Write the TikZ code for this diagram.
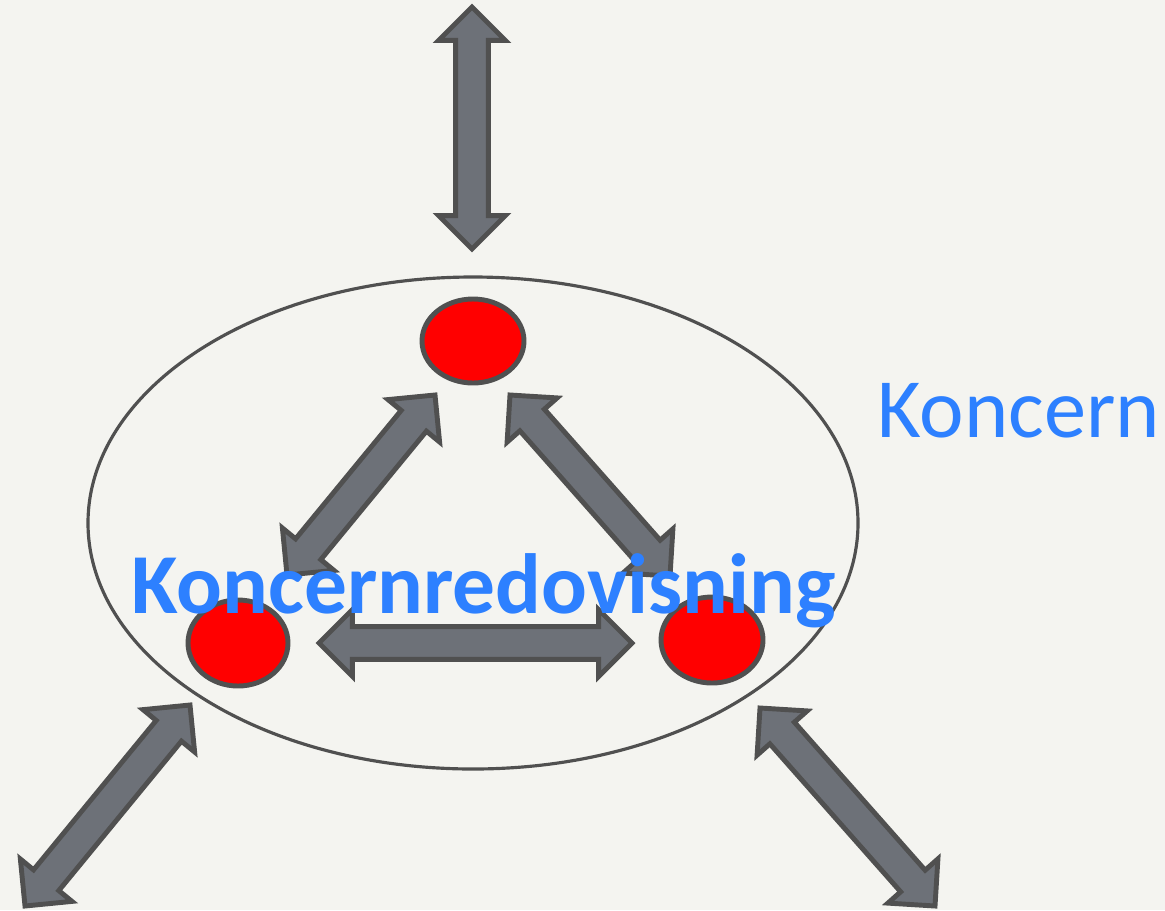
\documentclass[tikz,border=0pt]{standalone}
\usepackage{fontspec}
\setmainfont{Carlito}
\usetikzlibrary{calc}
\definecolor{bg}{HTML}{F4F4F0}
\definecolor{edge}{HTML}{505050}
\definecolor{arrfill}{HTML}{6D7178}
\definecolor{txtblue}{HTML}{2D80FF}
\definecolor{dotred}{HTML}{FF0000}
\newcommand\hl{19pt}
\newcommand\hw{19pt}
\newcommand\sw{9.3pt}
\newcommand\blockarrow[2]{%
  \coordinate (ba1) at ($(#1)!\hl!(#2)$);
  \coordinate (ba2) at ($(#2)!\hl!(#1)$);
  \draw[arrowshape] (#1) -- ($(ba1)!\hw!90:(#2)$) -- ($(ba1)!\sw!90:(#2)$)
    -- ($(ba2)!\sw!-90:(#1)$) -- ($(ba2)!\hw!-90:(#1)$) -- (#2)
    -- ($(ba2)!\hw!90:(#1)$) -- ($(ba2)!\sw!90:(#1)$)
    -- ($(ba1)!\sw!-90:(#2)$) -- ($(ba1)!\hw!-90:(#2)$) -- cycle;
}
\begin{document}
\begin{tikzpicture}[x=0.02cm,y=-0.02cm,
  arrowshape/.style={fill=arrfill,draw=edge,line width=2.8pt,line join=miter,miter limit=10},
  ]
\fill[bg] (0,0) rectangle (1165,910);
\useasboundingbox (0,0) rectangle (1165,910);
% group ellipse
\draw[edge,line width=1.8pt] (473,523) ellipse [x radius=385, y radius=246];
\coordinate (grp) at (473,523);
% companies
\draw[edge,line width=2.8pt,fill=dotred] (473,341) ellipse [x radius=51, y radius=42];
\draw[edge,line width=2.8pt,fill=dotred] (238,643) ellipse [x radius=50, y radius=43];
\draw[edge,line width=2.8pt,fill=dotred] (712,640) ellipse [x radius=51, y radius=43];
% arrow end points
\coordinate (v1) at (472,7);   \coordinate (v2) at (472,249);
\coordinate (h1) at (319,643); \coordinate (h2) at (632,643);
\coordinate (ul1) at (435,395); \coordinate (ul2) at (287,575);
\coordinate (ur1) at (510,395); \coordinate (ur2) at (670,576);
\coordinate (bl1) at (190,705); \coordinate (bl2) at (25,906);
\coordinate (br1) at (760,708); \coordinate (br2) at (935,906);
\blockarrow{v1}{v2}
\blockarrow{h1}{h2}
\blockarrow{ul1}{ul2}
\blockarrow{ur1}{ur2}
\blockarrow{bl1}{bl2}
\blockarrow{br1}{br2}
% texts
\node[anchor=base west,inner sep=0pt,text=txtblue,font=\fontsize{48pt}{58pt}\selectfont] (koncern) at (877,437) {Koncern};
\node[anchor=base west,inner sep=0pt,text=txtblue,font=\fontsize{48.6pt}{58pt}\selectfont\bfseries] (kr) at (131,613) {Koncernredovisning};
\end{tikzpicture}
\end{document}
